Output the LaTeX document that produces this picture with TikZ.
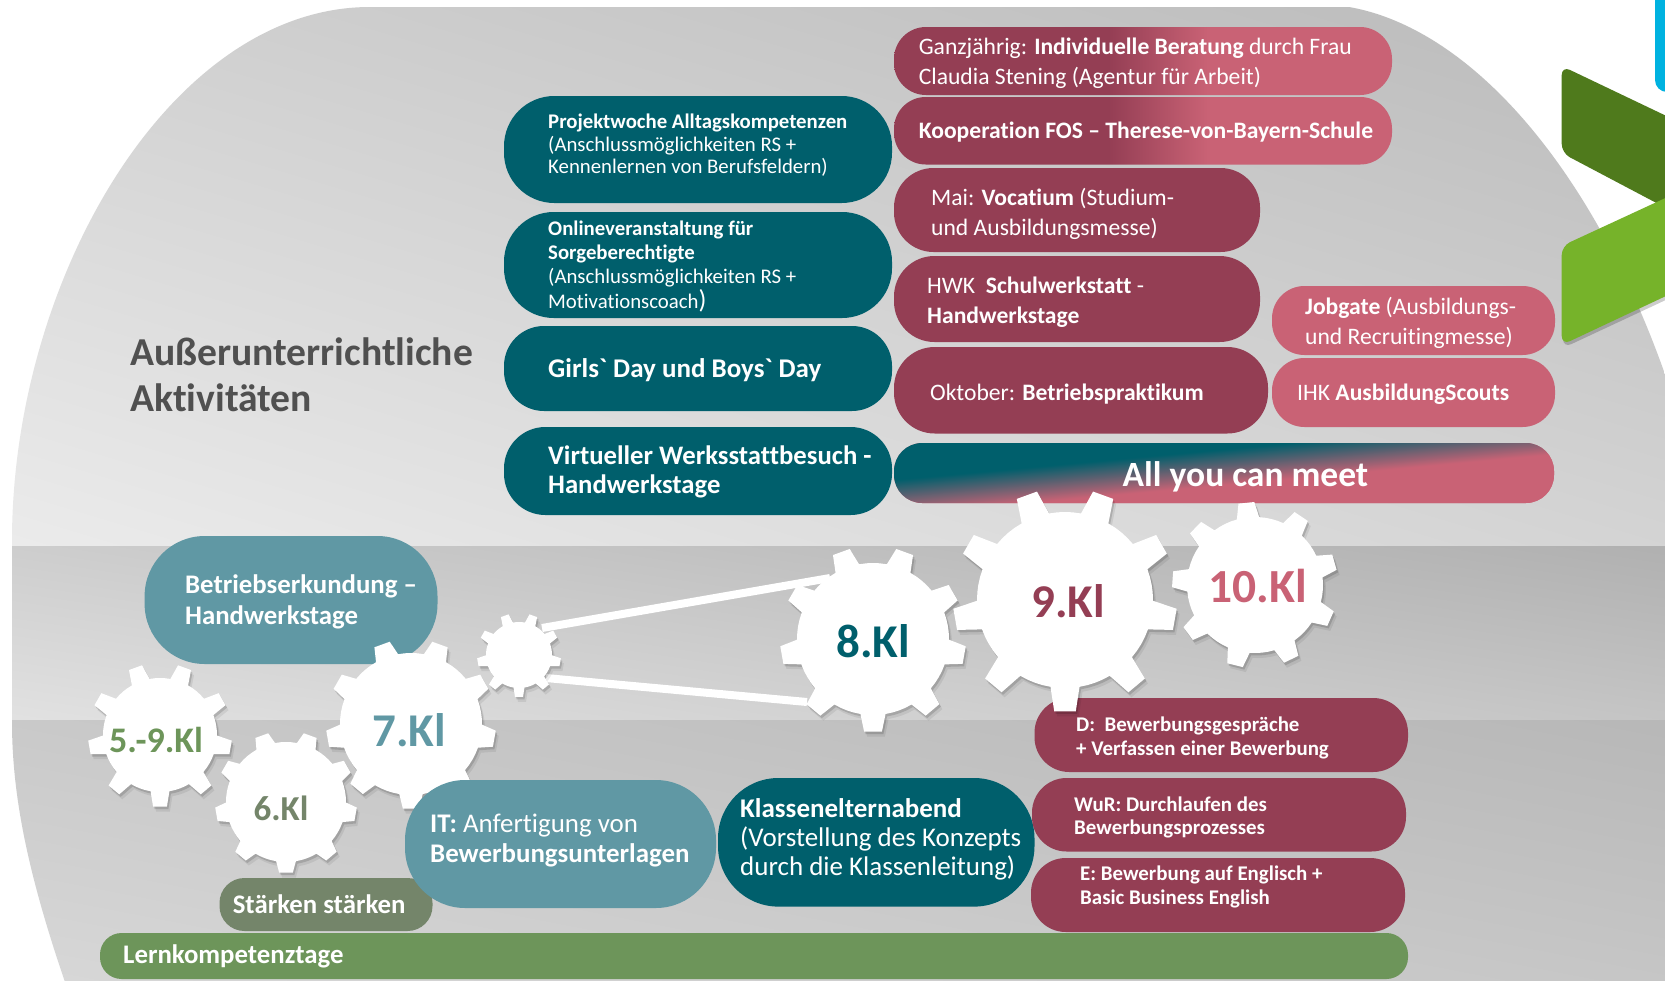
\documentclass[tikz,border=0pt]{standalone}
\usepackage{fontspec}
\setmainfont{Carlito}[Ligatures={TeXOff,NoCommon}]
\definecolor{teald}{HTML}{005F6C}
\definecolor{tealm}{HTML}{6098A4}
\definecolor{maroon}{HTML}{943E54}
\definecolor{rose}{HTML}{C96275}
\definecolor{grn}{HTML}{6D955A}
\definecolor{olive}{HTML}{74856A}
\definecolor{dgreen}{HTML}{4F7A1C}
\definecolor{lgreen}{HTML}{76B32A}
\definecolor{sky}{HTML}{00B2E0}
\definecolor{headc}{HTML}{505050}
\pgfdeclarehorizontalshading{mr}{100bp}{color(0bp)=(maroon);color(46.5bp)=(maroon);color(56.5bp)=(rose);color(100bp)=(rose)}
\pgfdeclareverticalshading{tr}{100bp}{color(0bp)=(rose);color(48.7bp)=(rose);color(51.3bp)=(teald);color(100bp)=(teald)}
\pgfdeclareverticalshading{bandone}{100bp}{gray(0bp)=(1);gray(25bp)=(1);gray(75bp)=(0.651);gray(100bp)=(0.651)}
\pgfdeclareverticalshading{bandtwo}{100bp}{gray(0bp)=(1);gray(37.1bp)=(1);gray(98bp)=(0);gray(100bp)=(0)}
\pgfdeclareverticalshading{bandthree}{100bp}{gray(0bp)=(1);gray(22.3bp)=(1);gray(100bp)=(0.39)}
\newcommand\pill[6]{%
  \pgfmathsetmacro\pw{#4-#2}\pgfmathsetmacro\ph{#5-#3}\pgfmathsetmacro\pr{0.47*\ph}%
  \node[#6,minimum width=\pw pt,minimum height=\ph pt,rounded corners=\pr pt,inner sep=0pt] (#1) at ({(#2+#4)/2},{(#3+#5)/2}) {};}
\newcommand\txt[6]{\node[lbl,font=\fontsize{#4}{#5}\selectfont] (#1) at (#2,#3) {#6};}
\newcommand\gearshape[6]{% options cx cy R r rot
  \fill[#1] ({#2+#5*cos(#6+80.5)},{#3+#5*sin(#6+80.5)})
   foreach \k [evaluate=\k as \a using #6+90+40*\k] in {0,...,8} {
    -- ({#2+#5*cos(\a-9.5)},{#3+#5*sin(\a-9.5)})
    -- ({#2+#4*cos(\a-5.5)},{#3+#4*sin(\a-5.5)})
    -- ({#2+#4*cos(\a+5.5)},{#3+#4*sin(\a+5.5)})
    -- ({#2+#5*cos(\a+9.5)},{#3+#5*sin(\a+9.5)})
    -- ({#2+#5*cos(\a+15)},{#3+#5*sin(\a+15)})
    -- ({#2+#5*cos(\a+20)},{#3+#5*sin(\a+20)})
    -- ({#2+#5*cos(\a+25)},{#3+#5*sin(\a+25)})
   } -- cycle;}
\newcommand\gear[5]{% cx cy R r rot
  \gearshape{black,opacity=.07}{#1+3}{#2+5}{#3}{#4}{#5}%
  \gearshape{black,opacity=.14}{#1+1.5}{#2+2.5}{#3}{#4}{#5}%
  \gearshape{white}{#1}{#2}{#3}{#4}{#5}}
\tikzset{lbl/.style={anchor=west,align=left,text=white,inner sep=0pt,yshift=-1.6pt},
 gearlbl/.style={anchor=center,inner sep=0pt},
 belt/.style={draw=white,line width=8pt}}
\begin{document}
\begin{tikzpicture}[x=1pt,y=-1pt]
\useasboundingbox (0,0) rectangle (1665,980);
\fill[white] (0,0) rectangle (1665,980);
% background
\begin{scope}
\clip (66,985) .. controls (30,880) and (12,800) .. (12,722) -- (12,541)
  .. controls (12,280) and (170,7) .. (370,7) -- (1349,7)
  .. controls (1480,30) and (1610,190) .. (1680,420) -- (1680,985) -- cycle;
\begin{scope}
\clip (0,0) rectangle (1700,546.5);
\shade[shading=bandone,shading angle=-16.7] (-68,-627) rectangle (1732,1173);
\end{scope}
\begin{scope}
\clip (0,546) rectangle (1700,720.5);
\shade[shading=bandtwo,shading angle=-8.6] (-68,-267) rectangle (1732,1533);
\end{scope}
\begin{scope}
\clip (0,720) rectangle (1700,985);
\shade[shading=bandthree,shading angle=-11] (-68,-50) rectangle (1732,1750);
\end{scope}
\end{scope}
% logo
\fill[sky,rounded corners=12pt] (1655,-20) -- (1655,92) -- (1690,92) -- (1690,-20) -- cycle;
\fill[dgreen,rounded corners=9pt] (1561.7,66) -- (1700,132) -- (1700,226) -- (1561.7,153) -- cycle;
\fill[black,opacity=.2,rounded corners=9pt] (1563,250) -- (1700,186) -- (1700,284) -- (1563,348) -- cycle;
\fill[lgreen,rounded corners=9pt] (1561.7,246) -- (1700,182) -- (1700,280) -- (1561.7,345) -- cycle;
% text heading
\node[lbl,text=headc,font=\fontsize{39.6}{46.7}\selectfont\bfseries] (head) at (130,373) {Außerunterrichtliche\\Aktivitäten};
% upper left column
\pill{p1}{504}{96}{892}{203}{fill=teald}
\pill{p2}{504}{212}{892}{318}{fill=teald}
\pill{p3}{504}{326}{892}{411}{fill=teald}
\pill{p4}{504}{427}{892}{515}{fill=teald}
\txt{t1}{548}{144}{20.8}{22.5}{\textbf{Projektwoche Alltagskompetenzen}\\(Anschlussmöglichkeiten RS +\\Kennenlernen von Berufsfeldern)}
\txt{t2}{548}{264.5}{20.8}{24.3}{\textbf{Onlineveranstaltung für}\\\textbf{Sorgeberechtigte}\\(Anschlussmöglichkeiten RS +\\Motivationscoach{\fontsize{26}{24}\selectfont)}}
\txt{t3}{548}{368.5}{27}{30}{\textbf{Girls` Day und Boys` Day}}
\txt{t4}{548}{470}{26.7}{29}{\textbf{Virtueller Werksstattbesuch -}\\\textbf{Handwerkstage}}
% upper right column
\pill{q1}{894}{27}{1392}{95}{shading=mr}
\pill{q2}{894}{97}{1392}{164.5}{shading=mr}
\pill{q3}{894}{168}{1260}{252}{fill=maroon}
\pill{q4}{894}{256}{1260}{342}{fill=maroon}
\pill{q5}{894}{347}{1268}{433.5}{fill=maroon}
\pill{q6}{1272}{286}{1555}{355}{fill=rose}
\pill{q7}{1272}{358}{1555}{427}{fill=rose}
\pill{q8}{894}{443}{1554}{503}{fill=rose}
\begin{scope}
\clip[rounded corners=28pt] (894,443) rectangle (1554,503);
\shade[shading=tr,shading angle=5.3] (883,127) rectangle (1563,807);
\end{scope}
\txt{u1}{918.6}{61.5}{23.6}{30}{Ganzjährig: \textbf{Individuelle Beratung} durch Frau\\Claudia Stening (Agentur für Arbeit)}
\txt{u2}{918.6}{130.6}{23.6}{30}{\textbf{Kooperation FOS – Therese-von-Bayern-Schule}}
\txt{u3}{931}{212}{23.6}{30}{Mai: \textbf{Vocatium} (Studium-\\und Ausbildungsmesse)}
\txt{u4}{927}{301}{23.6}{30}{HWK \ \textbf{Schulwerkstatt} -\\\textbf{Handwerkstage}}
\txt{u5}{930}{392}{23.6}{30}{Oktober: \textbf{Betriebspraktikum}}
\txt{u6}{1305}{321}{23.6}{30}{\textbf{Jobgate} (Ausbildungs-\\und Recruitingmesse)}
\txt{u7}{1297}{393}{23.6}{30}{IHK \textbf{AusbildungScouts}}
\txt{u8}{1122.5}{475}{35.5}{40}{\textbf{All you can meet}}
% lower pills
\pill{r1}{144.6}{536}{437.5}{664}{fill=tealm}
\txt{v1}{185}{600.5}{26.8}{31}{\textbf{Betriebserkundung –}\\\textbf{Handwerkstage}}
\pill{r2}{219.5}{878}{432.5}{931}{fill=olive}
\txt{v2}{232.6}{903}{26.8}{30}{\textbf{Stärken stärken}}
\pill{r3}{100}{933}{1408}{979}{fill=grn}
\txt{v3}{123}{955}{26.8}{30}{\textbf{Lernkompetenztage}}
\pill{r4}{718}{778}{1034.5}{906.6}{fill=teald}
\txt{v4}{740}{838}{27}{29}{\textbf{Klassenelternabend}\\(Vorstellung des Konzepts\\durch die Klassenleitung)}
\pill{r5}{1034.5}{698}{1408}{772}{fill=maroon}
\pill{r6}{1032}{778}{1406}{851.5}{fill=maroon}
\pill{r7}{1031}{858}{1405}{932}{fill=maroon}
\txt{v5}{1076}{736}{20.9}{24}{\textbf{D:\ \ Bewerbungsgespräche}\\\textbf{+ Verfassen einer Bewerbung}}
\txt{v6}{1074}{816}{20.9}{22.5}{\textbf{WuR: Durchlaufen des}\\\textbf{Bewerbungsprozesses}}
\txt{v7}{1080}{885.5}{20.9}{23.5}{\textbf{E: Bewerbung auf Englisch +}\\\textbf{Basic Business English}}
% belts
\coordinate (b1a) at (542,628);
\coordinate (b1b) at (830,578);
\coordinate (b2a) at (546,678);
\coordinate (b2b) at (807,702);
\draw[belt] (b1a) -- (b1b);
\draw[belt] (b2a) -- (b2b);
% gears
\gear{160}{735}{72}{57}{0}
\gear{286}{802}{71}{60}{0}
\gear{411}{724}{85}{71}{0}
\gear{519}{655}{42}{33}{0}
\gear{873}{639}{93}{76}{0}
\gear{1065}{600}{112}{88}{0}
\gear{1255}{585}{83}{68}{14}
\node[gearlbl,text=grn,font=\fontsize{36}{38}\selectfont\bfseries] (g5) at (156,740) {5.-9.Kl};
\node[gearlbl,text=olive,font=\fontsize{35}{38}\selectfont\bfseries] (g6) at (281,808) {6.Kl};
\node[gearlbl,text=tealm,font=\fontsize{47}{48}\selectfont\bfseries] (g7) at (409,730.6) {7.Kl};
\node[gearlbl,text=teald,font=\fontsize{47}{48}\selectfont\bfseries] (g8) at (873,641.5) {8.Kl};
\node[gearlbl,text=maroon,font=\fontsize{47}{48}\selectfont\bfseries] (g9) at (1068,601) {9.Kl};
\node[gearlbl,text=rose,font=\fontsize{47.5}{48}\selectfont\bfseries] (g10) at (1258,586) {10.Kl};
% IT pill above gear
\pill{r8}{405}{780}{716}{908}{fill=tealm}
\txt{v8}{430}{838.5}{26.9}{30}{\textbf{IT:} Anfertigung von\\\textbf{Bewerbungsunterlagen}}
\end{tikzpicture}
\end{document}
